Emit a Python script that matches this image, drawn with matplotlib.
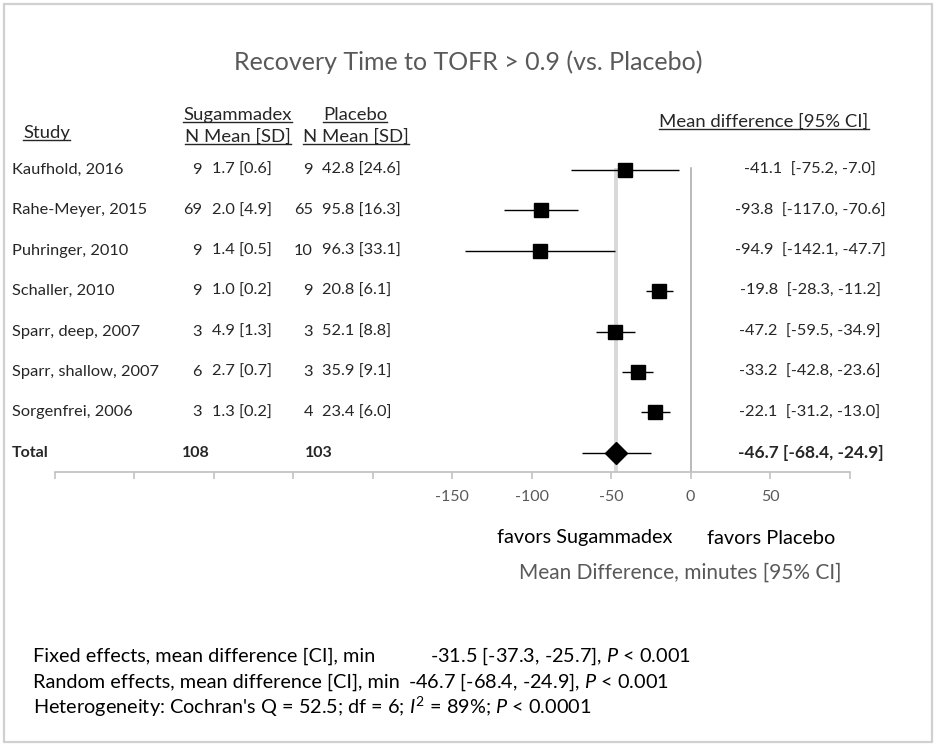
import matplotlib

matplotlib.use("Agg")
import matplotlib.pyplot as plt
import numpy as np
from matplotlib.lines import Line2D
from matplotlib.ticker import FuncFormatter
import matplotlib.transforms as mtransforms

plt.rcParams["font.family"] = ["Lato", "DejaVu Sans"]
plt.rcParams["mathtext.fontset"] = "custom"
plt.rcParams["mathtext.rm"] = "Lato"
plt.rcParams["mathtext.it"] = "Lato:italic"

# data
studies = ["Kaufhold, 2016", "Rahe-Meyer, 2015", "Puhringer, 2010", "Schaller, 2010",
           "Sparr, deep, 2007", "Sparr, shallow, 2007", "Sorgenfrei, 2006"]
sug_n = [9, 69, 9, 9, 3, 6, 3]
sug_mean = [1.7, 2.0, 1.4, 1.0, 4.9, 2.7, 1.3]
sug_sd = [0.6, 4.9, 0.5, 0.2, 1.3, 0.7, 0.2]
plc_n = [9, 65, 10, 9, 3, 3, 4]
plc_mean = [42.8, 95.8, 96.3, 20.8, 52.1, 35.9, 23.4]
plc_sd = [24.6, 16.3, 33.1, 6.1, 8.8, 9.1, 6.0]
md = [-41.1, -93.8, -94.9, -19.8, -47.2, -33.2, -22.1]
ci_lo = [-75.2, -117.0, -142.1, -28.3, -59.5, -42.8, -31.2]
ci_hi = [-7.0, -70.6, -47.7, -11.2, -34.9, -23.6, -13.0]
total_n = (108, 103)
total_md, total_lo, total_hi = -46.7, -68.4, -24.9
tick_vals = np.arange(-400, 101, 50)
shown_ticks = [-150, -100, -50, 0, 50]

W, H = 934, 744
GRAY = "#595959"
INK = "#262626"

fig = plt.figure(figsize=(W / 100, H / 100), dpi=100)
fig.patch.set_facecolor("white")


def fx(px):
    return px / W


def fy(py):
    return 1 - py / H


# outer chart frame
fig.add_artist(plt.Rectangle((fx(4), fy(742)), fx(928), 738 / H, transform=fig.transFigure,
                             fill=False, edgecolor="#d0d0d0", linewidth=1.6))

ax = fig.add_axes([fx(54.5), fy(472), fx(795), (472 - 100) / H])
ax.set_xlim(-400, 100)
ax.set_ylim(7.475, -1.733)
for s in ["top", "left", "right"]:
    ax.spines[s].set_visible(False)
ax.spines["bottom"].set_color("#bfbfbf")
ax.spines["bottom"].set_linewidth(1.2)
ax.set_yticks([])
ax.set_xticks(tick_vals)
ax.xaxis.set_major_formatter(FuncFormatter(lambda v, p: f"{v:g}" if v in shown_ticks else ""))
ax.tick_params(axis="x", length=5, width=1.1, color="#bfbfbf", labelcolor=GRAY,
               labelsize=11.5, pad=8)

rows = np.arange(len(studies))
n_rows = len(studies)

# reference lines
ax.plot([total_md, total_md], [0, 7.475], color="#d9d9d9", linewidth=2.8, zorder=1)
ax.plot([0, 0], [-0.05, 7.475], color="#a6a6a6", linewidth=1.1, zorder=1)

# study estimates
ax.hlines(rows, ci_lo, ci_hi, color="black", linewidth=1.0, zorder=2)
ax.plot(md, rows, linestyle="none", marker="s", markersize=9.8, color="black", zorder=3)
# pooled estimate
ax.hlines(n_rows, total_lo, total_hi, color="black", linewidth=1.0, zorder=2)
ax.plot([total_md], [n_rows], linestyle="none", marker="D", markersize=11.5, color="black",
        zorder=3)

tr = mtransforms.blended_transform_factory(fig.transFigure, ax.transData)
FS = 11.8
for i in rows:
    ax.text(fx(12), i, studies[i], transform=tr, fontsize=FS, va="center", color=INK)
    ax.text(fx(202), i, f"{sug_n[i]}", transform=tr, fontsize=FS, va="center", ha="right",
            color=INK)
    ax.text(fx(212), i, f"{sug_mean[i]:.1f} [{sug_sd[i]:.1f}]", transform=tr, fontsize=FS,
            va="center", color=INK)
    ax.text(fx(313), i, f"{plc_n[i]}", transform=tr, fontsize=FS, va="center", ha="right",
            color=INK)
    ax.text(fx(322), i, f"{plc_mean[i]:.1f} [{plc_sd[i]:.1f}]", transform=tr, fontsize=FS,
            va="center", color=INK)
    ax.text(fx(810), i, f"{md[i]:.1f}  [{ci_lo[i]:.1f}, {ci_hi[i]:.1f}]", transform=tr,
            fontsize=FS, va="center", ha="center", color=INK)

ax.text(fx(12), n_rows, "Total", transform=tr, fontsize=11.5, va="center", fontweight="bold",
        color=INK)
ax.text(fx(182), n_rows, f"{total_n[0]}", transform=tr, fontsize=11.5, va="center",
        fontweight="bold", color=INK)
ax.text(fx(305), n_rows, f"{total_n[1]}", transform=tr, fontsize=11.5, va="center",
        fontweight="bold", color=INK)
ax.text(fx(811), n_rows, f"{total_md:.1f} [{total_lo:.1f}, {total_hi:.1f}]", transform=tr,
        fontsize=12.5, va="center", ha="center", fontweight="bold", color=INK)

# headers (underlined)
headers = [
    (fx(23), fy(133), "Study", "left"),
    (fx(183), fy(115), "Sugammadex", "left"),
    (fx(185), fy(137), "N Mean [SD]", "left"),
    (fx(323), fy(115), "Placebo", "left"),
    (fx(303), fy(137), "N Mean [SD]", "left"),
    (fx(764), fy(122), "Mean difference [95% CI]", "center"),
]
header_texts = []
for x, y, s, ha in headers:
    header_texts.append(fig.text(x, y, s, fontsize=13.3, ha=ha, va="center", color=INK))

fig.text(fx(468), fy(62), "Recovery Time to TOFR > 0.9 (vs. Placebo)", fontsize=18,
         ha="center", va="center", color=GRAY)
fig.text(fx(585), fy(538), "favors Sugammadex", fontsize=14.3, ha="center",
         va="center", color="black")
fig.text(fx(771), fy(538), "favors Placebo", fontsize=14.3, ha="center", va="center",
         color="black")
fig.text(fx(680), fy(573), "Mean Difference, minutes [95% CI]", fontsize=15, ha="center",
         va="center", color=GRAY)

# summary statistics
SF = 14.3
fig.text(fx(33), fy(656), "Fixed effects, mean difference [CI], min", fontsize=SF,
         va="center")
fig.text(fx(430), fy(656), r"-31.5 [-37.3, -25.7], $\mathit{P}$ < 0.001", fontsize=SF,
         va="center")
fig.text(fx(33), fy(682), "Random effects, mean difference [CI], min", fontsize=SF,
         va="center")
fig.text(fx(408), fy(682), r"-46.7 [-68.4, -24.9], $\mathit{P}$ < 0.001", fontsize=SF,
         va="center")
fig.text(fx(33), fy(707), r"Heterogeneity: Cochran's Q = 52.5; df = 6; $\mathit{I}^{2}$ = 89%; "
         r"$\mathit{P}$ < 0.0001", fontsize=SF, va="center")

# underline the header texts
renderer = fig.canvas.get_renderer()
for t in header_texts:
    bb = t.get_window_extent(renderer).transformed(fig.transFigure.inverted())
    yl = bb.y0 + 1.0 / H
    fig.add_artist(Line2D([bb.x0, bb.x1], [yl, yl], transform=fig.transFigure,
                          color=INK, linewidth=1.0))

fig.savefig("out.png", dpi=100, facecolor="white")
